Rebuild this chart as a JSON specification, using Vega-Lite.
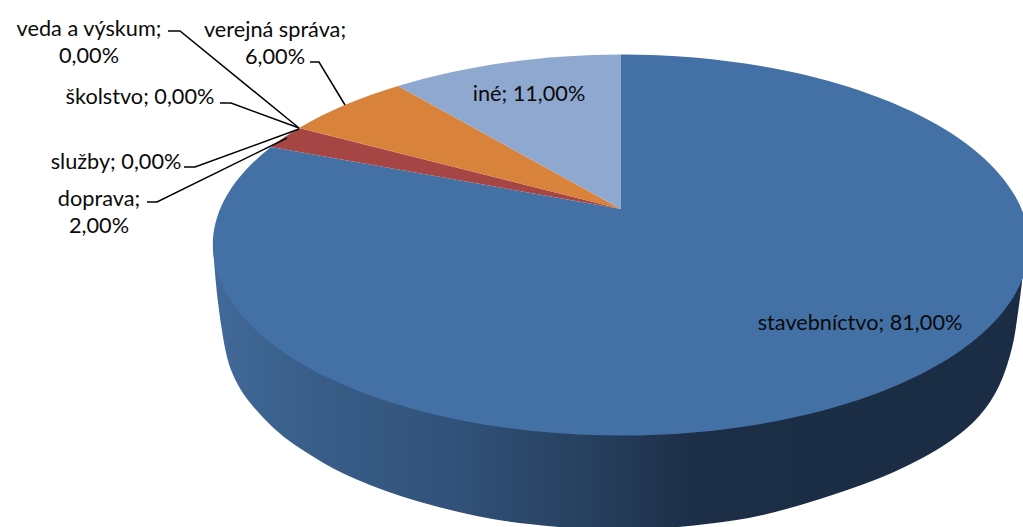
{
"$schema":"https://vega.github.io/schema/vega-lite/v6.json",
"width":1023,"height":527,"padding":0,"autosize":{"type":"none"},
"background":"white",
"view":{"stroke":null},
"config":{"style":{"cell":{"stroke":null}}},
"data":{"values":[
{"poradie":1,"odvetvie":"stavebníctvo","podiel":81,"popis":"stavebníctvo; 81,00%"},
{"poradie":2,"odvetvie":"doprava","podiel":2,"popis":"doprava;\n2,00%"},
{"poradie":3,"odvetvie":"služby","podiel":0,"popis":"služby; 0,00%"},
{"poradie":4,"odvetvie":"školstvo","podiel":0,"popis":"školstvo; 0,00%"},
{"poradie":5,"odvetvie":"veda a výskum","podiel":0,"popis":"veda a výskum;\n0,00%"},
{"poradie":6,"odvetvie":"verejná správa","podiel":6,"popis":"verejná správa;\n6,00%"},
{"poradie":7,"odvetvie":"iné","podiel":11,"popis":"iné; 11,00%"}
]},
"resolve":{"scale":{"shape":"independent","color":"independent"}},
"layer":[
{"transform":[{"filter":"datum.odvetvie==='stavebníctvo'"}],
 "mark":{"type":"point","filled":true,"size":4,"opacity":1,"color":{"gradient":"linear","x1":0,"y1":0,"x2":1,"y2":0,"stops":[{"offset":0,"color":"#41699a"},{"offset":0.107,"color":"#3a5f8a"},{"offset":0.293,"color":"#31527a"},{"offset":0.478,"color":"#263e5d"},{"offset":0.6,"color":"#1c2e46"},{"offset":1,"color":"#1b2d44"}]}},
 "encoding":{"shape":{"value":"M-298.5,-18.5Q-296.5,13.5,-294,35Q-291.5,56.5,-288,76.5Q-284.5,96.5,-280.5,106.5Q-276.5,116.5,-271.5,125Q-266.5,133.5,-257.5,144Q-248.5,154.5,-238.5,164Q-228.5,173.5,-216.5,181.5Q-204.5,189.5,-188,199.5Q-171.5,209.5,-141.5,221.5Q-111.5,233.5,-73,243.5Q-34.5,253.5,-6.5,257.5Q21.5,261.5,65.5,265Q109.5,268.5,150.5,265Q191.5,261.5,225,256.5Q258.5,251.5,308.5,235.5Q358.5,219.5,383.5,208Q408.5,196.5,425,186.5Q441.5,176.5,455,165Q468.5,153.5,478.5,138.5Q488.5,123.5,495,103.5Q501.5,83.5,504,66.5Q506.5,49.5,508.5,34.5Q510.5,19.5,511.5,8L511.5,-18.5Z"}}},
{"transform":[{"filter":"datum.podiel>0"}],
 "mark":{"type":"point","filled":true,"size":4,"opacity":1},
 "encoding":{
  "color":{"field":"odvetvie","type":"nominal","legend":null,"scale":{"domain":["stavebníctvo","doprava","verejná správa","iné"],"range":["#4371a6","#a64644","#d9823b","#8fa8cf"]}},
  "shape":{"field":"odvetvie","type":"nominal","legend":null,"scale":{"domain":["stavebníctvo","doprava","verejná správa","iné"],"range":[
   "M109.5,-54.5L109.5,-209A408,190.5,0,1,1,-240.5,-116.5Z",
   "M109.5,-54.5L-240.5,-116.5A408,190.5,0,0,1,-212.5,-135.5Z",
   "M109.5,-54.5L-212.5,-135.5A408,190.5,0,0,1,-113.5,-177.5Z",
   "M109.5,-54.5L-113.5,-177.5A408,190.5,0,0,1,109.5,-209Z"]}}}},
{"transform":[{"filter":"datum.poradie>=2&&datum.poradie<=6"}],
 "mark":{"type":"point","filled":false,"size":4,"opacity":1,"stroke":"#000000","strokeWidth":1.5,"fill":"transparent"},
 "encoding":{
  "shape":{"field":"odvetvie","type":"nominal","legend":null,"scale":{"domain":["doprava","služby","školstvo","veda a výskum","verejná správa"],"range":[
   "M-364.5,-61.5L-354.5,-61.5L-224.5,-125.5",
   "M-327.5,-96.5L-316.5,-96.5L-212.5,-134.5",
   "M-291.5,-160.5L-280.5,-160.5L-212.5,-135.5",
   "M-343.5,-232.5L-331.5,-232.5L-212.5,-135.5",
   "M-201.5,-201.5L-192.5,-201.5L-166.5,-158.5"]}}}},
{"mark":{"type":"text","font":"Lato","fontSize":21.7,"color":"#0a0a0a","align":"center","baseline":"middle","lineBreak":"\n","lineHeight":27.5},
 "encoding":{
  "x":{"field":"poradie","type":"quantitative","axis":null,"scale":{"domain":[1,2,3,4,5,6,7],"range":[860,99,116,140,89,275,529]}},
  "y":{"field":"poradie","type":"quantitative","axis":null,"scale":{"domain":[1,2,3,4,5,6,7],"range":[322.5,198.5,162,97,28.5,29.5,93.5]}},
  "text":{"field":"popis","type":"nominal"}}}
]
}
